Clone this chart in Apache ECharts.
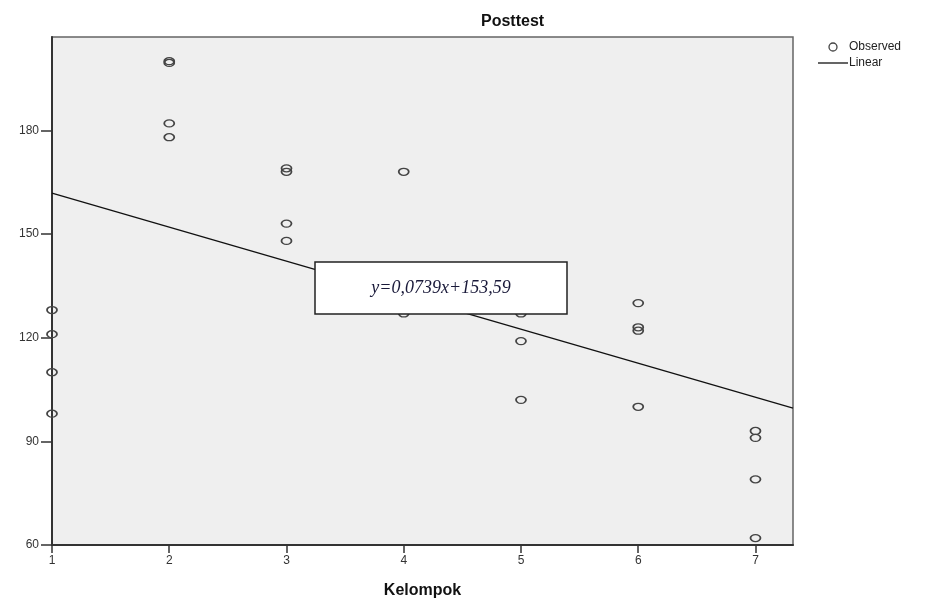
<!DOCTYPE html>
<html>
<head>
<meta charset="utf-8">
<script src="https://cdn.jsdelivr.net/npm/echarts@6/dist/echarts.min.js"></script>
<style>html,body{margin:0;padding:0;background:#fff}#c{width:933px;height:604px}</style>
</head>
<body>
<div id="c"></div>
<script>
// Observed points (Kelompok, Posttest)
const obsX = [1,1,1,1, 2,2,2,2, 3,3,3,3, 4,4, 5,5,5, 6,6,6,6, 7,7,7,7];
const obsY = [128,121,110,98, 200,199.5,182,178, 169,168,153,148, 168,127, 127,119,102, 130,123,122,100, 93,91,79,62];
// Linear fit line (at axis ends)
const linX = [1, 7.32];
const linY = [161.8, 99.6];
const xTicks = [1,2,3,4,5,6,7];
const yTicks = [60,90,120,150,180];
const equationText = 'y=0,0739x+153,59';

const chart = echarts.init(document.getElementById('c'), null, {renderer:'canvas'});
const font = 'Arial, "Liberation Sans", sans-serif';
const circleStyle = {color:'rgba(0,0,0,0)', borderColor:'#444', borderWidth:1.5, opacity:1};
chart.setOption({
  animation:false,
  backgroundColor:'#fff',
  title:{text:'Posttest', left:476, top:9, textStyle:{fontFamily:font, fontSize:16, fontWeight:'bold', color:'#111'}},
  legend:{
    orient:'vertical', left:813, top:36, itemGap:4, itemWidth:30, itemHeight:8,
    textStyle:{fontFamily:font, fontSize:12, color:'#222', padding:[0,0,0,-4]},
    data:[
      {name:'Observed', icon:'circle', itemStyle:{color:'rgba(0,0,0,0)',borderColor:'#444',borderWidth:1.3}},
      {name:'Linear', icon:'path://M0,0 L30,0 L30,1.3 L0,1.3 Z', itemStyle:{color:'#111'}}
    ]
  },
  grid:{left:52, right:140, top:37, bottom:59, show:true, backgroundColor:'#efefef', borderColor:'#666', borderWidth:1.5},
  xAxis:{
    type:'value', min:1, max:7.32, interval:1,
    name:'Kelompok', nameLocation:'middle', nameGap:38,
    nameTextStyle:{fontFamily:font, fontSize:16, fontWeight:'bold', color:'#111'},
    axisLine:{lineStyle:{color:'#333', width:2}},
    axisTick:{show:true, length:8, customValues:xTicks, lineStyle:{color:'#333', width:1.5}},
    axisLabel:{customValues:xTicks, margin:10, fontFamily:font, fontSize:12, color:'#333'},
    splitLine:{show:false}
  },
  yAxis:{
    type:'value', min:60, max:207, interval:30,
    axisLine:{show:true, lineStyle:{color:'#333', width:2}},
    axisTick:{show:true, length:11, customValues:yTicks, lineStyle:{color:'#333', width:1.5}},
    axisLabel:{customValues:yTicks, margin:13, fontFamily:font, fontSize:12, color:'#333'},
    splitLine:{show:false}
  },
  series:[
    {name:'Observed', type:'scatter', symbol:'circle', symbolSize:[10,7], clip:true,
     itemStyle:circleStyle,
     data:obsX.map((x,i)=>[x,obsY[i]]), z:3},
    {name:'Linear', type:'line', symbol:'none', itemStyle:{color:'#111'}, lineStyle:{color:'#111', width:1.3},
     data:linX.map((x,i)=>[x,linY[i]]), z:2}
  ],
  graphic:[
    {type:'rect', x:315, y:262, shape:{x:0, y:0, width:252, height:52}, style:{fill:'#fff', stroke:'#222', lineWidth:1.5}, z:10},
    {type:'text', x:441, y:288, style:{text:equationText, align:'center', verticalAlign:'middle', fontSize:18, fontStyle:'italic', fontFamily:'"Liberation Serif", "DejaVu Serif", serif', fill:'#1a1a3a'}, z:11}
  ]
});
</script>
</body>
</html>
